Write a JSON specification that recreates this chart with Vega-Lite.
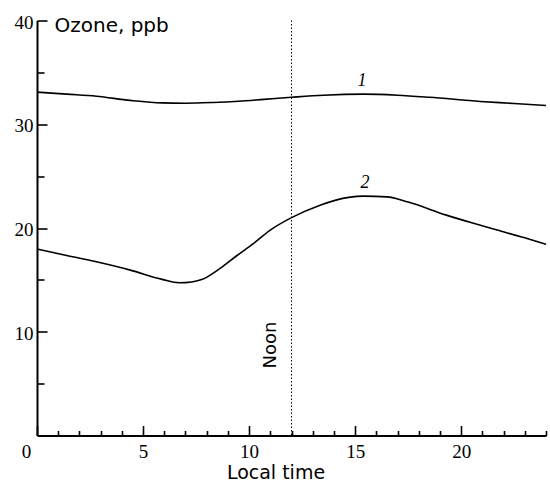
{
  "$schema": "https://vega.github.io/schema/vega-lite/v6.json",
  "width": 509,
  "height": 415,
  "autosize": {"type": "none"},
  "padding": {"left": 37, "top": 20.5, "right": 4, "bottom": 47.5},
  "background": "white",
  "config": {"view": {"stroke": null}, "axis": {"labelOverlap": false}},
  "resolve": {"axis": {"x": "independent"}},
  "layer": [
    {
      "data": {"values": [
        {"s": "1", "t": 0, "v": 33.1}, {"s": "1", "t": 1.4, "v": 32.9}, {"s": "1", "t": 2.8, "v": 32.7}, {"s": "1", "t": 4.4, "v": 32.3}, {"s": "1", "t": 5.9, "v": 32.06}, {"s": "1", "t": 7, "v": 32.03}, {"s": "1", "t": 8.3, "v": 32.1}, {"s": "1", "t": 9.5, "v": 32.22}, {"s": "1", "t": 10.7, "v": 32.4}, {"s": "1", "t": 12, "v": 32.6}, {"s": "1", "t": 13.5, "v": 32.8}, {"s": "1", "t": 15.4, "v": 32.9}, {"s": "1", "t": 17, "v": 32.8}, {"s": "1", "t": 18.5, "v": 32.6}, {"s": "1", "t": 20.9, "v": 32.2}, {"s": "1", "t": 22.5, "v": 32.0}, {"s": "1", "t": 24, "v": 31.8},
        {"s": "2", "t": 0, "v": 17.97}, {"s": "2", "t": 1.4, "v": 17.35}, {"s": "2", "t": 2.8, "v": 16.74}, {"s": "2", "t": 4.4, "v": 15.94}, {"s": "2", "t": 5.9, "v": 15.05}, {"s": "2", "t": 6.7, "v": 14.72}, {"s": "2", "t": 7.3, "v": 14.8}, {"s": "2", "t": 7.8, "v": 15.05}, {"s": "2", "t": 8.63, "v": 16.1}, {"s": "2", "t": 9.4, "v": 17.3}, {"s": "2", "t": 10.2, "v": 18.5}, {"s": "2", "t": 11, "v": 19.8}, {"s": "2", "t": 12, "v": 21.0}, {"s": "2", "t": 13.35, "v": 22.2}, {"s": "2", "t": 14.7, "v": 22.95}, {"s": "2", "t": 15.4, "v": 23.07}, {"s": "2", "t": 16.5, "v": 23.0}, {"s": "2", "t": 17.5, "v": 22.5}, {"s": "2", "t": 19.3, "v": 21.24}, {"s": "2", "t": 20.5, "v": 20.5}, {"s": "2", "t": 21.7, "v": 19.8}, {"s": "2", "t": 23, "v": 19.05}, {"s": "2", "t": 24, "v": 18.42}
      ]},
      "mark": {"type": "line", "interpolate": "monotone", "color": "black", "strokeWidth": 1.6},
      "encoding": {
        "x": {
          "field": "t", "type": "quantitative",
          "scale": {"domain": [0, 24], "nice": false, "zero": false},
          "axis": {
            "orient": "bottom",
            "title": "Local time",
            "titleX": 238.5,
            "titleY": 43,
            "titleAlign": "center",
            "titleBaseline": "alphabetic",
            "values": [0, 5, 10, 15, 20],
            "tickSize": -10,
            "labelOffset": {"condition": {"test": "datum.value === 0", "value": -11}, "value": 0},
            "labelOverlap": false,
            "labelFlush": false,
            "labelFont": "Liberation Serif",
            "labelFontSize": 19,
            "labelColor": "black",
            "labelPadding": 17,
            "titleFont": "DejaVu Sans",
            "titleFontSize": 19,
            "titleFontWeight": "normal",
            "titleColor": "black",
            "domainColor": "black",
            "domainWidth": 2,
            "tickColor": "black",
            "tickWidth": 1.6,
            "grid": false
          }
        },
        "y": {
          "field": "v", "type": "quantitative",
          "scale": {"domain": [0, 40], "nice": false},
          "axis": {
            "title": "Ozone, ppb",
            "titleAngle": 0,
            "titleAlign": "left",
            "titleBaseline": "middle",
            "titleX": 17,
            "titleY": 5,
            "titleFont": "DejaVu Sans",
            "titleFontSize": 20,
            "titleFontWeight": "normal",
            "titleColor": "black",
            "values": [5,10,15,20,25,30,35,40],
            "tickSize": {"condition": {"test": "datum.value % 10 === 0", "value": -10}, "value": -7},
            "labelExpr": "datum.value % 10 === 0 ? datum.label : ''",
            "labelOverlap": false,
            "labelFont": "Liberation Serif",
            "labelFontSize": 19,
            "labelColor": "black",
            "labelPadding": 14,
            "labelOffset": 1.5,
            "domainColor": "black",
            "domainWidth": 2,
            "tickColor": "black",
            "tickWidth": 1.6,
            "grid": false
          }
        },
        "detail": {"field": "s"}
      }
    },
    {
      "data": {"values": [{"t": 12}]},
      "mark": {"type": "rule", "color": "black", "strokeWidth": 1, "strokeDash": [1.5, 2]},
      "encoding": {
        "x": {
          "field": "t", "type": "quantitative",
          "axis": {
            "orient": "bottom",
            "title": null,
            "values": [1,2,3,4,6,7,8,9,11,12,13,14,16,17,18,19,21,22,23,24],
            "tickSize": -5,
            "labels": false,
            "domain": false,
            "grid": false,
            "tickColor": "black",
            "tickWidth": 1.6
          }
        }
      }
    },
    {
      "data": {"values": [{"t": 15.33, "v": 34.15, "label": "1"}, {"t": 15.47, "v": 24.3, "label": "2"}]},
      "mark": {"type": "text", "font": "Liberation Serif", "fontStyle": "italic", "fontSize": 18, "color": "black"},
      "encoding": {
        "x": {"field": "t", "type": "quantitative", "axis": null},
        "y": {"field": "v", "type": "quantitative"},
        "text": {"field": "label"}
      }
    },
    {
      "data": {"values": [{"t": 11.04, "v": 8.72, "label": "Noon"}]},
      "mark": {"type": "text", "font": "DejaVu Sans", "fontSize": 18, "angle": 270, "color": "black", "align": "center", "baseline": "middle"},
      "encoding": {
        "x": {"field": "t", "type": "quantitative", "axis": null},
        "y": {"field": "v", "type": "quantitative"},
        "text": {"field": "label"}
      }
    }
  ]
}
